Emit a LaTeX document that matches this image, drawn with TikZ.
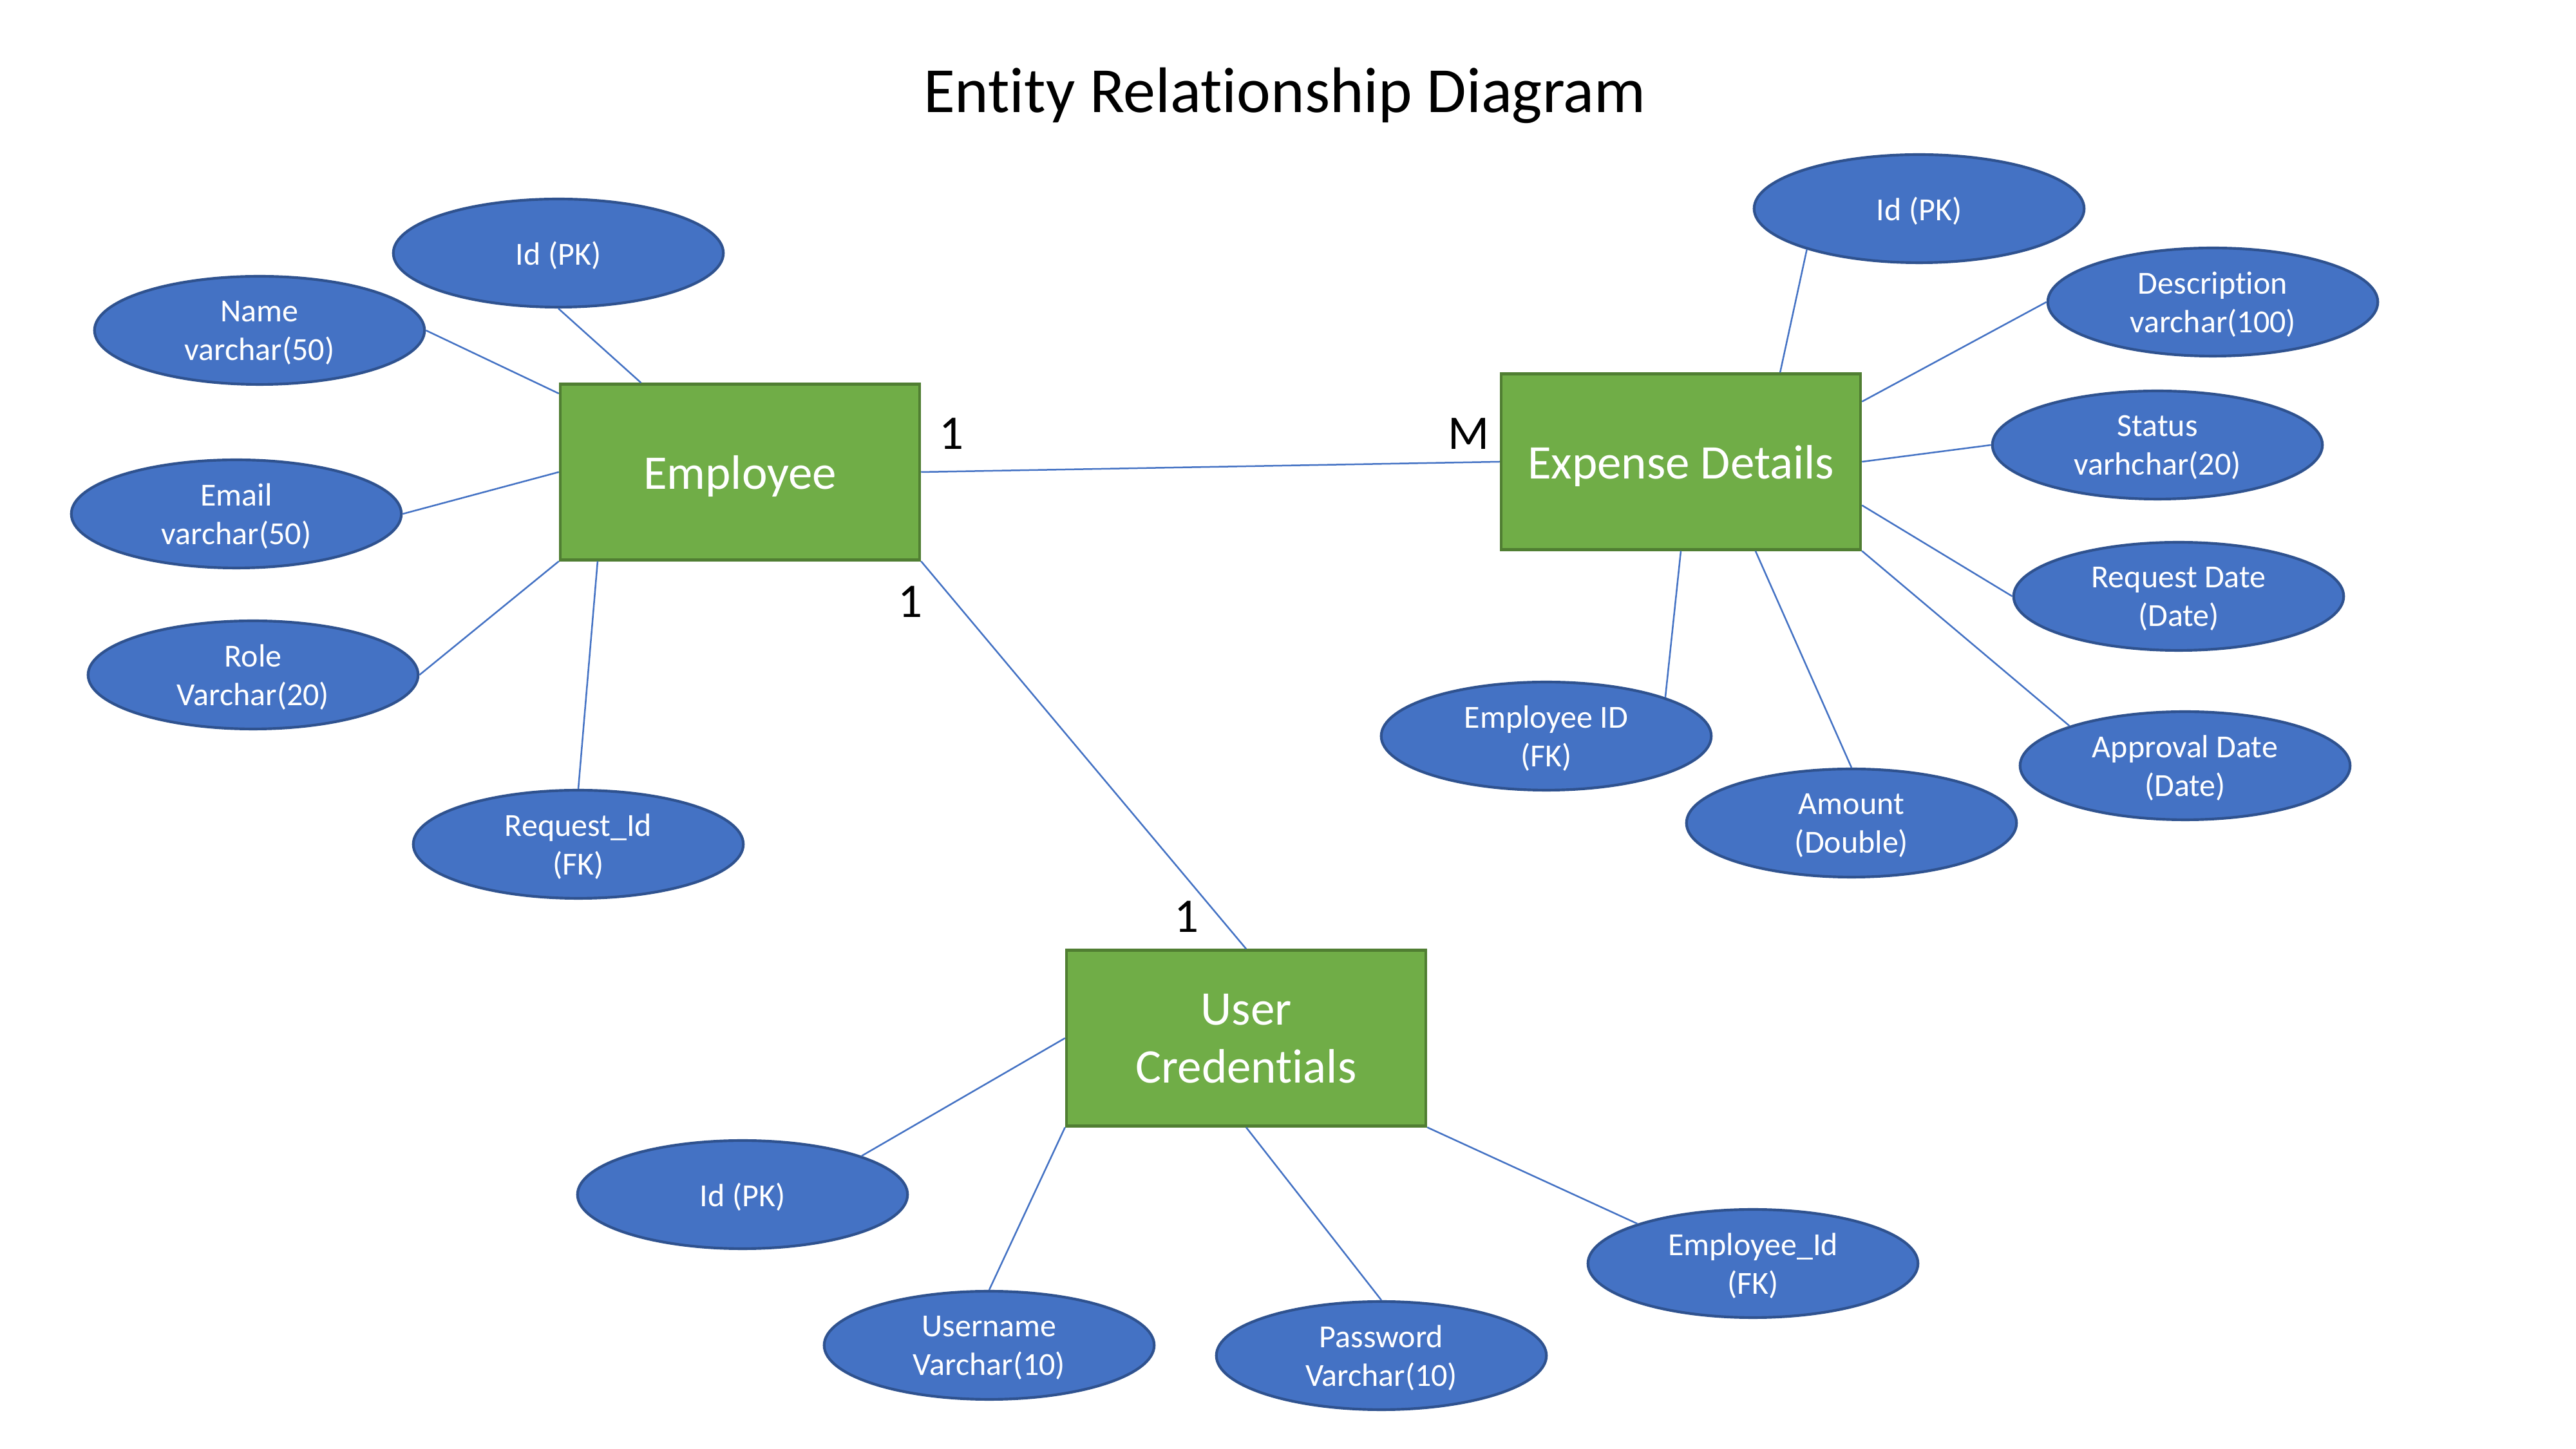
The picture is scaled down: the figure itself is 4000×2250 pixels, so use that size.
\documentclass[tikz,border=0pt]{standalone}
\usepackage{fontspec}
\setmainfont{Carlito}[RawFeature={-liga;-clig;-calt;-dlig;-rlig}]
\usetikzlibrary{shapes.geometric,calc}
\definecolor{attrfill}{HTML}{4472C4}
\definecolor{attrdraw}{HTML}{2F528F}
\definecolor{entfill}{HTML}{70AD47}
\definecolor{entdraw}{HTML}{507E32}
\begin{document}
\begin{tikzpicture}[x=0.24pt,y=-0.24pt,
  attr/.style={ellipse,fill=attrfill,draw=attrdraw,line width=1pt,minimum width=123pt,minimum height=40.3pt,inner sep=0pt,align=center,text=white,text depth=0pt,font=\fontsize{12}{14.4}\selectfont},
  entity/.style={rectangle,fill=entfill,draw=entdraw,line width=1pt,minimum width=134pt,minimum height=65.5pt,inner sep=0pt,align=center,text=white,text depth=0pt,font=\fontsize{18}{21.6}\selectfont},
  conn/.style={draw=attrfill,line width=0.6pt},
  card/.style={font=\fontsize{18}{21.6}\selectfont,text=black,inner sep=0pt}]
\useasboundingbox[fill=white] (0,0) rectangle (4000,2250);
\node[font=\fontsize{24}{28.8}\selectfont] (title) at (1995,148) {Entity Relationship Diagram};
% entities
\node[entity] (emp) at (1149,733) {Employee};
\node[entity] (exp) at (2610,717) {Expense Details};
\node[entity] (usr) at (1935,1612) {User\\Credentials};
% employee attributes
\node[attr] (eid) at (867,393) {Id (PK)};
\node[attr] (ename) at (403,513) {Name\\varchar(50)};
\node[attr] (email) at (367,798) {Email\\varchar(50)};
\node[attr] (erole) at (393,1048) {Role\\Varchar(20)};
\node[attr] (ereq) at (898,1311) {Request\_Id\\(FK)};
% expense attributes
\node[attr] (xid) at (2980,324) {Id (PK)};
\node[attr] (xdesc) at (3436,469) {Description\\varchar(100)};
\node[attr] (xstat) at (3350,691) {Status\\varhchar(20)};
\node[attr] (xreq) at (3383,926) {Request Date\\(Date)};
\node[attr] (xapp) at (3393,1189) {Approval Date\\(Date)};
\node[attr] (xamt) at (2875,1278) {Amount\\(Double)};
\node[attr] (xemp) at (2401,1143) {Employee ID\\(FK)};
% user attributes
\node[attr] (uid) at (1153,1855) {Id (PK)};
\node[attr] (uname) at (1536,2089) {Username\\Varchar(10)};
\node[attr] (upass) at (2145,2105) {Password\\Varchar(10)};
\node[attr] (uemp) at (2722,1962) {Employee\_Id\\(FK)};
% connectors: employee
\draw[conn] (eid.south) -- ($(emp.north west)!0.227!(emp.north east)$);
\draw[conn] (ename.east) -- ($(emp.north west)!0.06!(emp.south west)$);
\draw[conn] (email.east) -- (emp.west);
\draw[conn] (erole.east) -- (emp.south west);
\draw[conn] (ereq.north) -- ($(emp.south west)!0.107!(emp.south east)$);
% connectors: expense
\draw[conn] (xid.200) -- ($(exp.north west)!0.774!(exp.north east)$);
\draw[conn] (xdesc.west) -- ($(exp.north east)!0.163!(exp.south east)$);
\draw[conn] (xstat.west) -- (exp.east);
\draw[conn] (xreq.west) -- ($(exp.north east)!0.744!(exp.south east)$);
\draw[conn] (xapp.161) -- (exp.south east);
\draw[conn] (xamt.north) -- ($(exp.south west)!0.706!(exp.south east)$);
\draw[conn] (xemp.18) -- (exp.south);
% connectors: user
\draw[conn] (uid.18) -- (usr.west);
\draw[conn] (uname.north) -- (usr.south west);
\draw[conn] (upass.north) -- (usr.south);
\draw[conn] (uemp.161) -- (usr.south east);
% relationships
\draw[conn] (emp.east) -- (exp.west);
\draw[conn] (emp.south east) -- (usr.north);
\node[card] (c1) at (1477,673) {1};
\node[card] (cm) at (2281,673) {M};
\node[card] (c2) at (1413,934) {1};
\node[card] (c3) at (1842,1423) {1};
\end{tikzpicture}
\end{document}
